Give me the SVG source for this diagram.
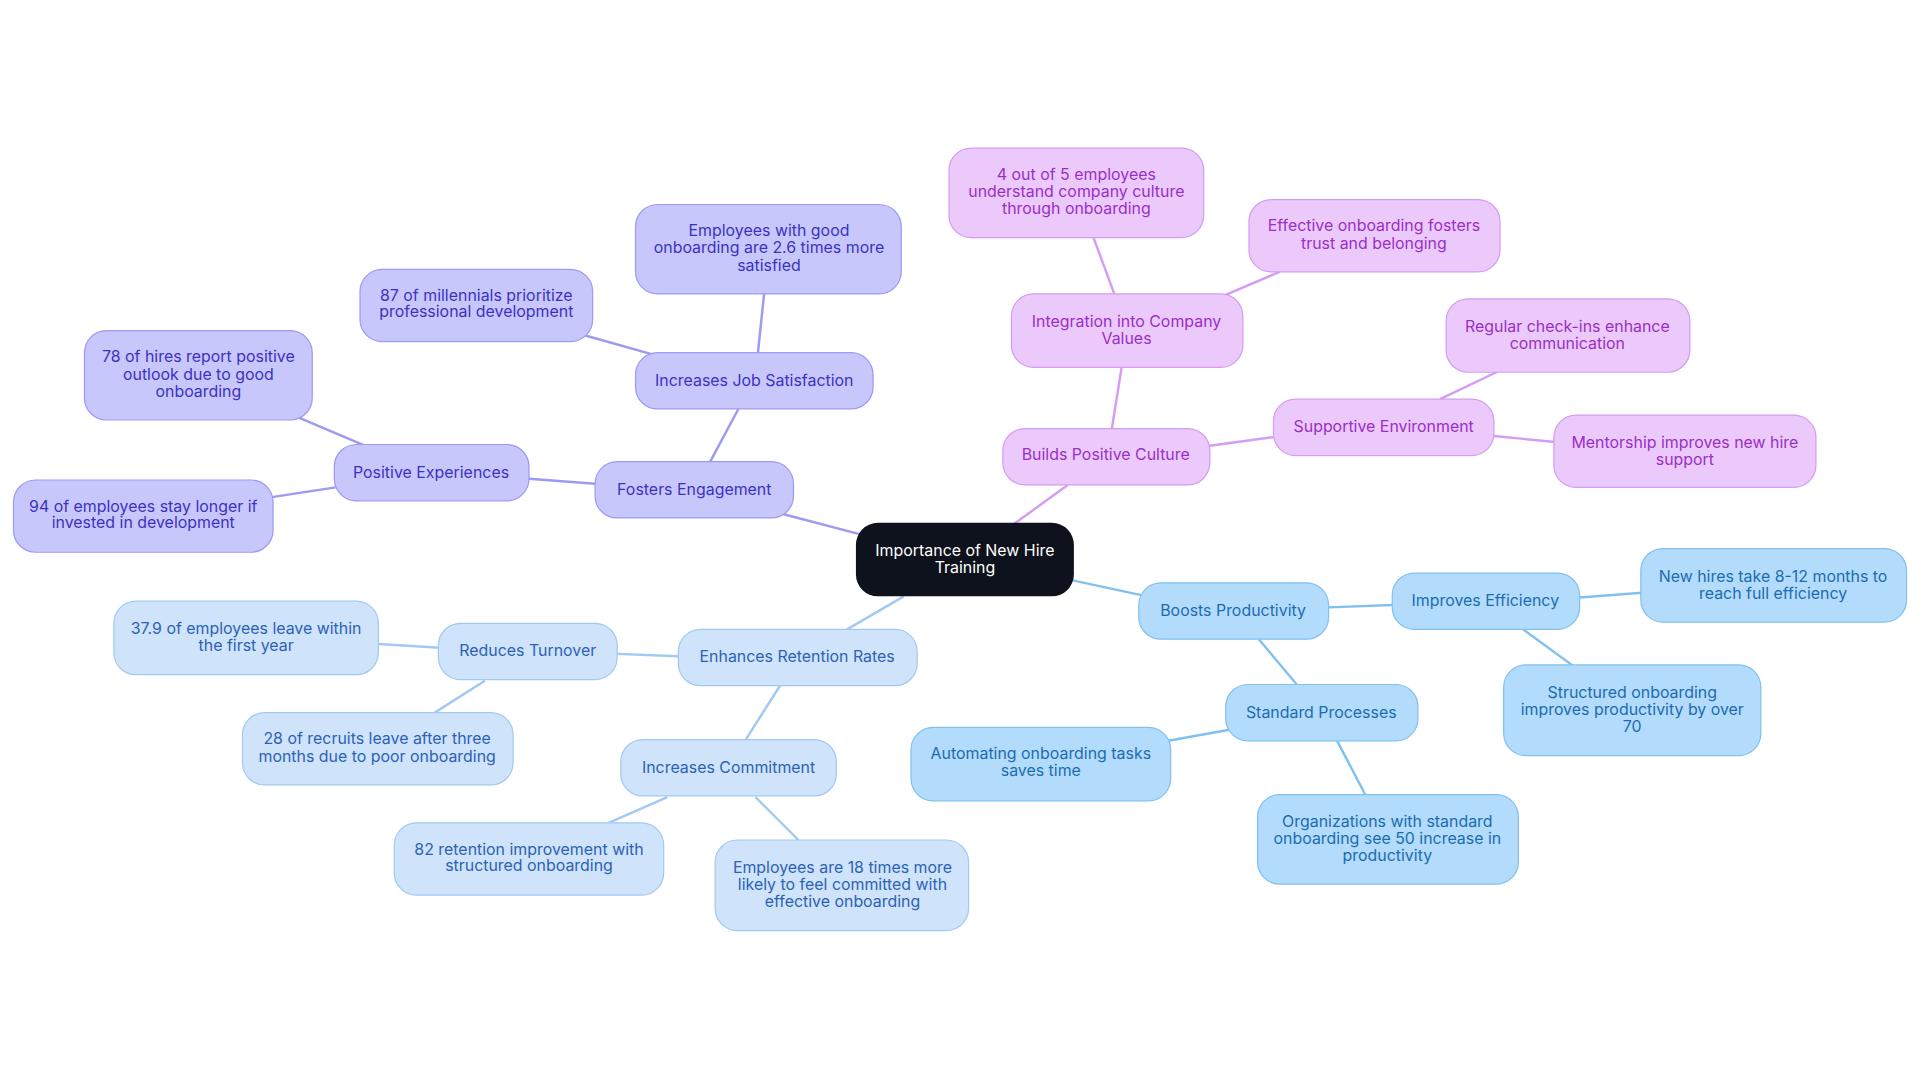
<svg xmlns="http://www.w3.org/2000/svg" width="1920" height="1083" viewBox="0 0 1920 1083">
<style>
text{font-family:Inter,"Noto Sans",sans-serif;font-size:13px;text-anchor:middle}
.p rect{fill:#c8c7fb;stroke:#9d9af1;stroke-width:1}.p text{fill:#3b32c4}
.k rect{fill:#ebc9fb;stroke:#d49cf3;stroke-width:1}.k text{fill:#9a2fc7}
.b rect{fill:#b3dbfb;stroke:#80c1ef;stroke-width:1}.b text{fill:#1b6db0}
.l rect{fill:#cfe3fb;stroke:#a2c9f3;stroke-width:1}.l text{fill:#2c62b5}
.cp{stroke:#9d9af1}.ck{stroke:#d49cf3}.cb{stroke:#80c1ef}.cl{stroke:#a2c9f3}
#edges line{stroke-width:2}
</style>
<rect width="1920" height="1083" fill="#fff"/>
<g transform="scale(1.2245)">
<g id="edges">
<line class="cp" x1="705" y1="437" x2="640" y2="420"/>
<line class="cp" x1="580" y1="377" x2="603" y2="334"/>
<line class="cp" x1="619" y1="288" x2="624" y2="240"/>
<line class="cp" x1="535" y1="290" x2="478" y2="274"/>
<line class="cp" x1="486" y1="395" x2="432" y2="391"/>
<line class="cp" x1="298" y1="364" x2="244" y2="341"/>
<line class="cp" x1="274" y1="398" x2="222" y2="406"/>
<line class="ck" x1="828" y1="428" x2="872" y2="396"/>
<line class="ck" x1="908" y1="350" x2="916" y2="300"/>
<line class="ck" x1="910" y1="240" x2="893" y2="194"/>
<line class="ck" x1="998" y1="242" x2="1045" y2="222"/>
<line class="ck" x1="988" y1="364" x2="1040" y2="357"/>
<line class="ck" x1="1176" y1="326" x2="1222" y2="304"/>
<line class="ck" x1="1220" y1="356" x2="1270" y2="361"/>
<line class="cb" x1="876" y1="474" x2="932" y2="486"/>
<line class="cb" x1="1085" y1="496" x2="1137" y2="494"/>
<line class="cb" x1="1290" y1="488" x2="1341" y2="484"/>
<line class="cb" x1="1244" y1="514" x2="1285" y2="544"/>
<line class="cb" x1="1028" y1="522" x2="1059" y2="559"/>
<line class="cb" x1="1004" y1="596" x2="954" y2="605"/>
<line class="cb" x1="1092" y1="605" x2="1115" y2="649"/>
<line class="cl" x1="738" y1="487" x2="690" y2="515"/>
<line class="cl" x1="554" y1="536" x2="504" y2="534"/>
<line class="cl" x1="359" y1="529" x2="309" y2="526"/>
<line class="cl" x1="396" y1="556" x2="355" y2="582"/>
<line class="cl" x1="637" y1="560" x2="609" y2="604"/>
<line class="cl" x1="545" y1="651" x2="497" y2="672"/>
<line class="cl" x1="617" y1="651" x2="652" y2="686"/>
</g>
<g id="root"><rect x="699" y="427" width="178" height="60" rx="18" fill="#0d121c"/><text x="788" y="454" fill="#fff">Importance of New Hire</text><text x="788" y="468" fill="#fff">Training</text></g>
<g id="n1" class="p"><rect x="486" y="377" width="162" height="46" rx="18"/><text x="567" y="404">Fosters Engagement</text></g>
<g id="n2" class="p"><rect x="519" y="288" width="194" height="46" rx="18"/><text x="616" y="315">Increases Job Satisfaction</text></g>
<g id="n3" class="p"><rect x="519" y="167" width="217" height="73" rx="18"/><text x="628" y="193">Employees with good</text><text x="628" y="207">onboarding are 2.6 times more</text><text x="628" y="221">satisfied</text></g>
<g id="n4" class="p"><rect x="294" y="220" width="190" height="59" rx="18"/><text x="389" y="246">87 of millennials prioritize</text><text x="389" y="259">professional development</text></g>
<g id="n5" class="p"><rect x="273" y="363" width="159" height="46" rx="18"/><text x="352" y="390">Positive Experiences</text></g>
<g id="n6" class="p"><rect x="69" y="270" width="186" height="73" rx="18"/><text x="162" y="296">78 of hires report positive</text><text x="162" y="310">outlook due to good</text><text x="162" y="324">onboarding</text></g>
<g id="n7" class="p"><rect x="11" y="392" width="212" height="59" rx="18"/><text x="117" y="418">94 of employees stay longer if</text><text x="117" y="431">invested in development</text></g>
<g id="n8" class="k"><rect x="819" y="350" width="169" height="46" rx="18"/><text x="903" y="376">Builds Positive Culture</text></g>
<g id="n9" class="k"><rect x="826" y="240" width="189" height="60" rx="18"/><text x="920" y="267">Integration into Company</text><text x="920" y="281">Values</text></g>
<g id="n10" class="k"><rect x="775" y="121" width="208" height="73" rx="18"/><text x="879" y="147">4 out of 5 employees</text><text x="879" y="161">understand company culture</text><text x="879" y="175">through onboarding</text></g>
<g id="n11" class="k"><rect x="1020" y="163" width="205" height="59" rx="18"/><text x="1122" y="189">Effective onboarding fosters</text><text x="1122" y="203">trust and belonging</text></g>
<g id="n12" class="k"><rect x="1040" y="326" width="180" height="46" rx="18"/><text x="1130" y="353">Supportive Environment</text></g>
<g id="n13" class="k"><rect x="1181" y="244" width="199" height="60" rx="18"/><text x="1280" y="271">Regular check-ins enhance</text><text x="1280" y="285">communication</text></g>
<g id="n14" class="k"><rect x="1269" y="339" width="214" height="59" rx="18"/><text x="1376" y="366">Mentorship improves new hire</text><text x="1376" y="380">support</text></g>
<g id="n15" class="b"><rect x="930" y="476" width="155" height="46" rx="18"/><text x="1007" y="503">Boosts Productivity</text></g>
<g id="n16" class="b"><rect x="1137" y="468" width="153" height="46" rx="18"/><text x="1213" y="495">Improves Efficiency</text></g>
<g id="n17" class="b"><rect x="1340" y="448" width="217" height="60" rx="18"/><text x="1448" y="475">New hires take 8-12 months to</text><text x="1448" y="489">reach full efficiency</text></g>
<g id="n18" class="b"><rect x="1228" y="543" width="210" height="74" rx="18"/><text x="1333" y="570">Structured onboarding</text><text x="1333" y="584">improves productivity by over</text><text x="1333" y="598">70</text></g>
<g id="n19" class="b"><rect x="1001" y="559" width="157" height="46" rx="18"/><text x="1079" y="586">Standard Processes</text></g>
<g id="n20" class="b"><rect x="744" y="594" width="212" height="60" rx="18"/><text x="850" y="620">Automating onboarding tasks</text><text x="850" y="634">saves time</text></g>
<g id="n21" class="b"><rect x="1027" y="649" width="213" height="73" rx="18"/><text x="1133" y="675">Organizations with standard</text><text x="1133" y="689">onboarding see 50 increase in</text><text x="1133" y="703">productivity</text></g>
<g id="n22" class="l"><rect x="554" y="514" width="195" height="46" rx="18"/><text x="651" y="541">Enhances Retention Rates</text></g>
<g id="n23" class="l"><rect x="358" y="509" width="146" height="46" rx="18"/><text x="431" y="536">Reduces Turnover</text></g>
<g id="n24" class="l"><rect x="93" y="491" width="216" height="60" rx="18"/><text x="201" y="518">37.9 of employees leave within</text><text x="201" y="532">the first year</text></g>
<g id="n25" class="l"><rect x="198" y="582" width="221" height="59" rx="18"/><text x="308" y="608">28 of recruits leave after three</text><text x="308" y="622">months due to poor onboarding</text></g>
<g id="n26" class="l"><rect x="507" y="604" width="176" height="46" rx="18"/><text x="595" y="631">Increases Commitment</text></g>
<g id="n27" class="l"><rect x="322" y="672" width="220" height="59" rx="18"/><text x="432" y="698">82 retention improvement with</text><text x="432" y="711">structured onboarding</text></g>
<g id="n28" class="l"><rect x="584" y="686" width="207" height="74" rx="18"/><text x="688" y="713">Employees are 18 times more</text><text x="688" y="727">likely to feel committed with</text><text x="688" y="741">effective onboarding</text></g>
</g>
</svg>
